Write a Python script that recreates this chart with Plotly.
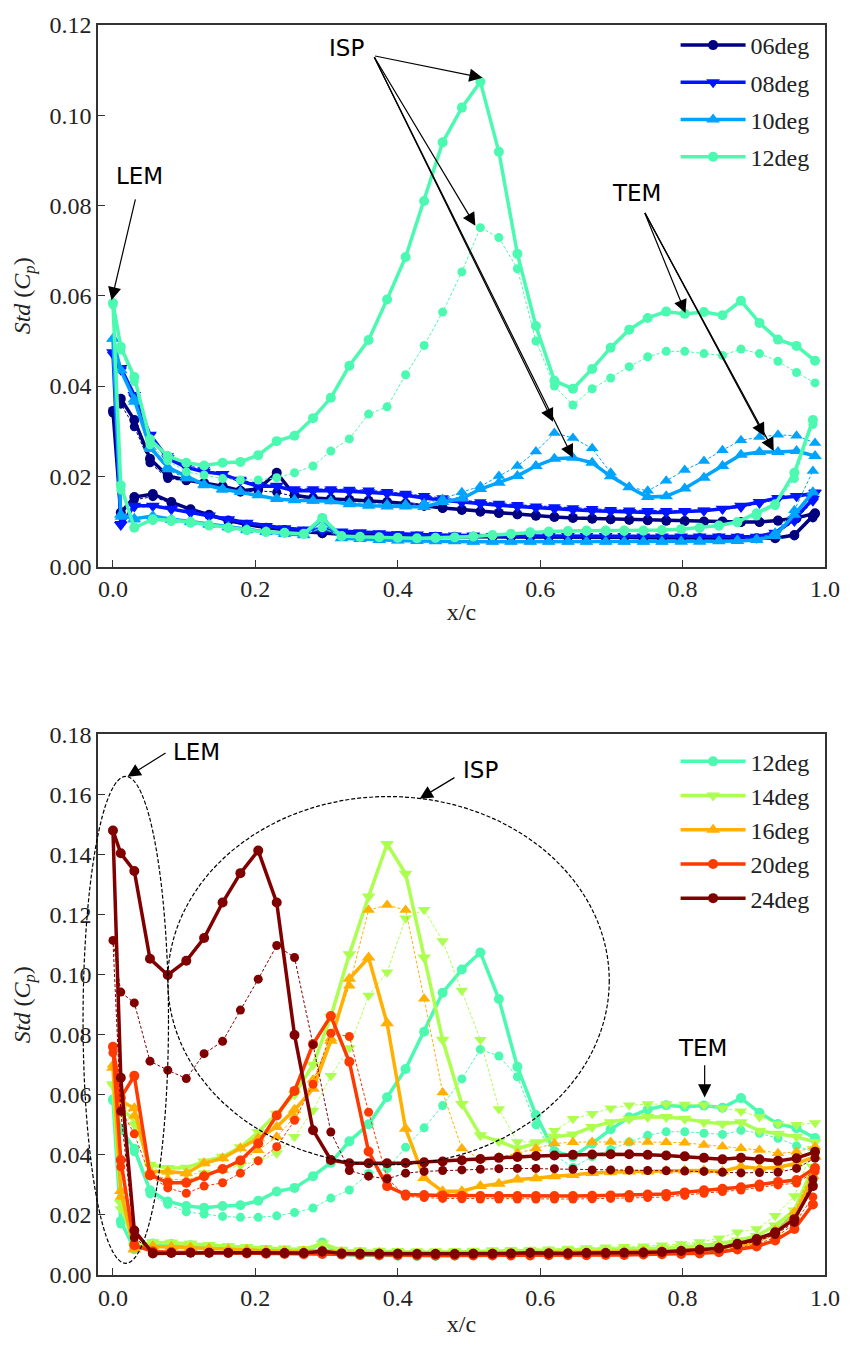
import plotly.graph_objects as go

# ---------------- pressure-tap chordwise positions ----------------
XU = [0.0, 0.011, 0.03, 0.052, 0.077, 0.103, 0.128, 0.154, 0.179, 0.204, 0.230, 0.255, 0.281, 0.306,
      0.332, 0.359, 0.385, 0.411, 0.437, 0.463, 0.490, 0.516, 0.542, 0.568, 0.594, 0.620, 0.646, 0.673,
      0.699, 0.725, 0.751, 0.777, 0.803, 0.830, 0.856, 0.882, 0.908, 0.934, 0.960, 0.986]
XL = [0.0, 0.011, 0.03, 0.056, 0.082, 0.109, 0.135, 0.162, 0.188, 0.215, 0.241, 0.268, 0.294, 0.321,
      0.347, 0.374, 0.400, 0.427, 0.453, 0.480, 0.506, 0.533, 0.559, 0.586, 0.612, 0.639, 0.665, 0.692,
      0.718, 0.745, 0.771, 0.798, 0.824, 0.851, 0.877, 0.904, 0.930, 0.957, 0.983]

# ---------------- 06deg ----------------
A06_SU = [.0345, .0372, .0325, .0239, .0201, .0192, .0185, .0178, .0168, .0172, .0208, .0158, .0152, .0150,
          .0148, .0146, .0143, .0140, .0135, .0130, .0126, .0122, .0119, .0116, .0113, .0110, .0108, .0106,
          .0105, .0104, .0103, .0102, .0101, .0100, .0100, .0099, .0099, .0102, .0108, .0118]
A06_SL = [.0345, .0120, .0154, .0161, .0143, .0127, .0115, .0102, .0093, .0086, .0081, .0077, .0074, .0072,
          .0070, .0069, .0068, .0067, .0066, .0066, .0066, .0066, .0066, .0066, .0066, .0066, .0065, .0065,
          .0065, .0064, .0064, .0063, .0063, .0063, .0063, .0063, .0063, .0070, .0112]
A06_DU = [.0340, .0360, .0310, .0230, .0195, .0190, .0185, .0175, .0165, .0168, .0165, .0155, .0150, .0148,
          .0146, .0144, .0141, .0138, .0134, .0129, .0125, .0121, .0118, .0115, .0112, .0110, .0108, .0106,
          .0104, .0103, .0102, .0101, .0100, .0099, .0099, .0098, .0098, .0101, .0106, .0116]
A06_DL = [.0340, .0115, .0148, .0155, .0140, .0125, .0113, .0100, .0092, .0085, .0080, .0076, .0073, .0071,
          .0069, .0068, .0067, .0066, .0065, .0065, .0065, .0065, .0065, .0065, .0065, .0065, .0064, .0064,
          .0064, .0063, .0063, .0062, .0062, .0062, .0062, .0062, .0063, .0068, .0108]

# ---------------- 08deg ----------------
A08_SU = [.0475, .0440, .0380, .0292, .0240, .0220, .0210, .0205, .0190, .0178, .0178, .0168, .0168, .0168,
          .0167, .0165, .0162, .0158, .0152, .0147, .0142, .0139, .0136, .0133, .0130, .0128, .0126, .0124,
          .0122, .0121, .0120, .0120, .0122, .0124, .0128, .0135, .0143, .0152, .0156, .0163]
A08_SL = [.0475, .0092, .0135, .0135, .0128, .0120, .0113, .0105, .0097, .0090, .0085, .0082, .0080, .0078,
          .0076, .0074, .0072, .0071, .0070, .0069, .0069, .0068, .0068, .0068, .0068, .0068, .0068, .0068,
          .0068, .0067, .0067, .0067, .0067, .0067, .0066, .0066, .0075, .0105, .0150]
A08_DU = [.0470, .0435, .0375, .0290, .0245, .0225, .0215, .0205, .0193, .0182, .0180, .0172, .0172, .0172,
          .0171, .0169, .0166, .0162, .0157, .0152, .0147, .0143, .0140, .0137, .0134, .0132, .0130, .0128,
          .0126, .0125, .0124, .0124, .0124, .0125, .0127, .0131, .0140, .0150, .0157, .0165]
A08_DL = [.0470, .0095, .0132, .0133, .0126, .0118, .0111, .0103, .0096, .0089, .0084, .0081, .0079, .0077,
          .0075, .0073, .0071, .0070, .0069, .0068, .0068, .0067, .0067, .0067, .0067, .0067, .0067, .0067,
          .0067, .0066, .0066, .0066, .0066, .0066, .0065, .0066, .0072, .0100, .0145]

# ---------------- 10deg ----------------
A10_SU = [.0505, .0435, .0370, .0265, .0220, .0200, .0182, .0172, .0166, .0158, .0150, .0147, .0146, .0145,
          .0138, .0135, .0133, .0133, .0132, .0143, .0151, .0172, .0186, .0201, .0223, .0239, .0241, .0230,
          .0200, .0176, .0154, .0156, .0173, .0197, .0223, .0248, .0254, .0254, .0256, .0245]
A10_SL = [.0505, .0115, .0106, .0112, .0105, .0100, .0094, .0088, .0082, .0077, .0073, .0070, .0105, .0063,
          .0061, .0059, .0058, .0057, .0056, .0056, .0055, .0055, .0055, .0055, .0055, .0055, .0055, .0055,
          .0055, .0055, .0055, .0055, .0055, .0056, .0057, .0059, .0068, .0115, .0165]
A10_DU = [.0505, .0435, .0365, .0260, .0215, .0195, .0180, .0170, .0165, .0158, .0152, .0148, .0146, .0145,
          .0142, .0140, .0138, .0138, .0140, .0150, .0165, .0178, .0201, .0223, .0255, .0296, .0285, .0262,
          .0208, .0176, .0168, .0190, .0214, .0234, .0258, .0280, .0287, .0292, .0290, .0274]
A10_DL = [.0500, .0110, .0104, .0110, .0103, .0098, .0092, .0086, .0080, .0076, .0072, .0069, .0086, .0063,
          .0061, .0059, .0058, .0057, .0056, .0056, .0055, .0055, .0055, .0055, .0055, .0055, .0055, .0055,
          .0055, .0055, .0055, .0056, .0056, .0057, .0059, .0062, .0075, .0125, .0212]

# ---------------- 12deg ----------------
A12_SU = [.0584, .0487, .0420, .0282, .0245, .0230, .0224, .0230, .0232, .0247, .0278, .0290, .0329, .0374,
          .0445, .0502, .0592, .0686, .0810, .0940, .1017, .1074, .0919, .0693, .0533, .0412, .0394, .0438,
          .0485, .0525, .0551, .0565, .0560, .0564, .0557, .0589, .0540, .0503, .0489, .0456]
A12_SL = [.0584, .0180, .0086, .0105, .0103, .0099, .0092, .0086, .0081, .0077, .0075, .0073, .0108, .0068,
          .0066, .0065, .0064, .0063, .0064, .0065, .0067, .0070, .0073, .0076, .0078, .0079, .0080, .0080,
          .0080, .0080, .0081, .0083, .0086, .0091, .0099, .0118, .0138, .0208, .0325]
A12_DU = [.0580, .0480, .0410, .0270, .0235, .0210, .0203, .0195, .0192, .0192, .0197, .0208, .0223, .0256,
          .0283, .0338, .0354, .0425, .0490, .0564, .0653, .0751, .0729, .0660, .0500, .0400, .0358, .0394,
          .0418, .0443, .0465, .0477, .0477, .0472, .0468, .0482, .0472, .0455, .0430, .0407]
A12_DL = [.0580, .0170, .0088, .0102, .0100, .0096, .0090, .0085, .0080, .0076, .0074, .0072, .0086, .0068,
          .0066, .0065, .0064, .0063, .0063, .0064, .0066, .0069, .0072, .0074, .0076, .0077, .0078, .0078,
          .0078, .0079, .0080, .0082, .0085, .0090, .0097, .0112, .0135, .0195, .0315]

# ---------------- 14deg ----------------
A14_SU = [.0635, .0550, .0520, .0367, .0356, .0357, .0378, .0394, .0425, .0476, .0537, .0602, .0700, .0860,
          .1068, .1260, .1435, .1336, .1057, .0783, .0569, .0465, .0445, .0421, .0438, .0460, .0468, .0493,
          .0509, .0520, .0526, .0526, .0520, .0509, .0504, .0509, .0480, .0470, .0460, .0443]
A14_SL = [.0635, .0240, .0095, .0108, .0107, .0104, .0100, .0096, .0092, .0089, .0087, .0085, .0105, .0082,
          .0080, .0078, .0077, .0076, .0076, .0077, .0078, .0079, .0080, .0081, .0082, .0083, .0084, .0085,
          .0086, .0087, .0089, .0092, .0097, .0104, .0115, .0130, .0165, .0215, .0360]
A14_DU = [.0630, .0540, .0500, .0360, .0340, .0335, .0340, .0350, .0365, .0380, .0405, .0460, .0548, .0663,
          .0756, .0931, .1008, .1188, .1216, .1112, .0947, .0783, .0553, .0443, .0443, .0480, .0520, .0537,
          .0555, .0565, .0569, .0569, .0568, .0566, .0555, .0545, .0526, .0504, .0500, .0506]
A14_DL = [.0630, .0220, .0098, .0110, .0108, .0105, .0101, .0097, .0094, .0091, .0089, .0087, .0092, .0085,
          .0083, .0082, .0081, .0080, .0080, .0081, .0082, .0083, .0084, .0085, .0086, .0088, .0090, .0092,
          .0094, .0096, .0099, .0103, .0110, .0122, .0142, .0153, .0197, .0263, .0420]

# ---------------- 16deg ----------------
A16_SU = [.0690, .0580, .0555, .0345, .0345, .0339, .0372, .0389, .0422, .0455, .0493, .0550, .0620, .0780,
          .0986, .1057, .0838, .0487, .0323, .0279, .0279, .0296, .0304, .0318, .0322, .0329, .0333, .0340,
          .0342, .0345, .0345, .0347, .0348, .0348, .0345, .0361, .0355, .0358, .0372, .0394]
A16_SL = [.0690, .0280, .0085, .0095, .0093, .0090, .0087, .0085, .0083, .0081, .0079, .0078, .0082, .0076,
          .0074, .0073, .0072, .0071, .0071, .0071, .0071, .0072, .0072, .0073, .0073, .0074, .0075, .0076,
          .0077, .0078, .0080, .0082, .0085, .0090, .0097, .0110, .0140, .0195, .0330]
A16_DU = [.0700, .0570, .0530, .0335, .0320, .0315, .0335, .0350, .0380, .0415, .0460, .0526, .0650, .0788,
          .0963, .1215, .1232, .1215, .0920, .0608, .0421, .0386, .0392, .0405, .0421, .0438, .0442, .0443,
          .0443, .0443, .0443, .0442, .0440, .0433, .0428, .0422, .0416, .0405, .0410, .0427]
A16_DL = [.0700, .0260, .0088, .0097, .0095, .0092, .0089, .0086, .0084, .0082, .0080, .0079, .0081, .0077,
          .0075, .0074, .0073, .0072, .0072, .0072, .0072, .0073, .0073, .0074, .0074, .0075, .0076, .0077,
          .0078, .0080, .0082, .0084, .0088, .0093, .0100, .0115, .0150, .0210, .0350]

# ---------------- 20deg ----------------
A20_SU = [.0760, .0590, .0663, .0334, .0307, .0307, .0329, .0353, .0381, .0438, .0531, .0613, .0769, .0862,
          .0710, .0411, .0296, .0268, .0266, .0265, .0264, .0263, .0263, .0263, .0263, .0263, .0263, .0264,
          .0265, .0266, .0268, .0270, .0275, .0282, .0287, .0292, .0301, .0310, .0316, .0356]
A20_SL = [.0760, .0383, .0099, .0078, .0076, .0075, .0074, .0073, .0072, .0071, .0070, .0069, .0070, .0068,
          .0067, .0066, .0066, .0065, .0065, .0065, .0065, .0065, .0065, .0065, .0066, .0066, .0066, .0067,
          .0067, .0068, .0069, .0070, .0072, .0076, .0085, .0095, .0115, .0153, .0235]
A20_DU = [.0740, .0550, .0470, .0330, .0290, .0272, .0296, .0307, .0339, .0380, .0427, .0515, .0635, .0805,
          .0794, .0542, .0323, .0262, .0258, .0255, .0254, .0253, .0253, .0253, .0253, .0253, .0253, .0254,
          .0255, .0256, .0258, .0260, .0265, .0272, .0278, .0283, .0292, .0300, .0306, .0345]
A20_DL = [.0740, .0360, .0105, .0080, .0078, .0077, .0076, .0075, .0074, .0073, .0072, .0071, .0071, .0070,
          .0069, .0068, .0068, .0067, .0067, .0067, .0067, .0067, .0067, .0067, .0068, .0068, .0068, .0069,
          .0069, .0070, .0071, .0072, .0075, .0080, .0090, .0102, .0125, .0170, .0260]

# ---------------- 24deg ----------------
A24_SU = [.1480, .1404, .1345, .1053, .0999, .1046, .1122, .1240, .1338, .1413, .1240, .0799, .0482, .0383,
          .0372, .0372, .0372, .0373, .0375, .0378, .0382, .0386, .0390, .0393, .0396, .0398, .0400, .0401,
          .0402, .0402, .0400, .0398, .0395, .0390, .0385, .0390, .0385, .0380, .0389, .0410]
A24_SL = [.1480, .0657, .0148, .0072, .0073, .0074, .0074, .0074, .0074, .0073, .0073, .0073, .0079, .0072,
          .0071, .0071, .0071, .0070, .0070, .0070, .0071, .0071, .0072, .0074, .0072, .0072, .0073, .0073,
          .0074, .0075, .0077, .0080, .0084, .0088, .0104, .0120, .0142, .0186, .0296]
A24_DU = [.1114, .0942, .0906, .0712, .0682, .0654, .0737, .0778, .0882, .0985, .1097, .1057, .0767, .0476,
          .0348, .0329, .0320, .0339, .0345, .0348, .0350, .0352, .0354, .0355, .0355, .0354, .0352, .0350,
          .0350, .0349, .0348, .0347, .0346, .0345, .0342, .0340, .0341, .0342, .0355, .0389]
A24_DL = [.1114, .0545, .0125, .0074, .0074, .0075, .0075, .0075, .0074, .0074, .0074, .0073, .0076, .0072,
          .0072, .0071, .0071, .0071, .0071, .0071, .0071, .0072, .0072, .0073, .0073, .0073, .0074, .0074,
          .0075, .0076, .0078, .0081, .0085, .0092, .0100, .0112, .0135, .0175, .0318]

TOP_NAMES = ["06deg", "08deg", "10deg", "12deg"]
BOT_NAMES = ["12deg", "14deg", "16deg", "20deg", "24deg"]

# ---------------- styles ----------------
COLORS = {"06deg": "#000080", "08deg": "#0014FF", "10deg": "#00A4FF", "12deg": "#4BFAB0",
          "14deg": "#ADFF4F", "16deg": "#FFB000", "20deg": "#FF3A00", "24deg": "#800000"}
SYMBOLS = {"06deg": "circle", "08deg": "triangle-down", "10deg": "triangle-up", "12deg": "circle",
           "14deg": "triangle-down", "16deg": "triangle-up", "20deg": "circle", "24deg": "circle"}
DATA = {"06deg": (A06_SU, A06_SL, A06_DU, A06_DL), "08deg": (A08_SU, A08_SL, A08_DU, A08_DL),
        "10deg": (A10_SU, A10_SL, A10_DU, A10_DL), "12deg": (A12_SU, A12_SL, A12_DU, A12_DL),
        "14deg": (A14_SU, A14_SL, A14_DU, A14_DL), "16deg": (A16_SU, A16_SL, A16_DU, A16_DL),
        "20deg": (A20_SU, A20_SL, A20_DU, A20_DL), "24deg": (A24_SU, A24_SL, A24_DU, A24_DL)}

XR = [-0.021, 1.0]
YR_TOP = [0.0, 0.12]
YR_BOT = [0.0, 0.18]

SERIF = "Liberation Serif"
SANS = "DejaVu Sans"
TXT = "#222222"


def loop(up, lo):
    xs = XU[::-1] + XL[1:]
    ys = up[::-1] + lo[1:]
    return xs, ys


fig = go.Figure()


def add_angle(name, xa, ya, legend, group):
    su, sl, du, dl = DATA[name]
    col = COLORS[name]
    sym = SYMBOLS[name]
    big = 2 if sym.startswith("triangle") else 0
    xs, ys = loop(du, dl)
    fig.add_trace(go.Scatter(x=xs, y=ys, mode="lines+markers", xaxis=xa, yaxis=ya,
                             line=dict(color=col, width=1, dash="3px,2px"),
                             marker=dict(symbol=sym, size=9 + big, color=col, line=dict(width=0)),
                             showlegend=False, legendgroup=group, hoverinfo="skip"))
    xs, ys = loop(su, sl)
    fig.add_trace(go.Scatter(x=xs, y=ys, mode="lines+markers", xaxis=xa, yaxis=ya, name=name,
                             line=dict(color=col, width=3.5),
                             marker=dict(symbol=sym, size=10 + big, color=col, line=dict(width=0)),
                             legend=legend, legendgroup=group))


for n in TOP_NAMES:
    add_angle(n, "x", "y", "legend", "t" + n)
for n in BOT_NAMES:
    add_angle(n, "x2", "y2", "legend2", "b" + n)

axis_common = dict(showline=True, linecolor="#333333", linewidth=1.5, mirror=True,
                   ticks="inside", ticklen=7, tickwidth=1.2, tickcolor="#333333",
                   showgrid=False, zeroline=False,
                   tickfont=dict(family=SERIF, size=24, color=TXT))

ytitle = "<i>Std</i> (<i>C<sub>p</sub></i>)"

fig.update_layout(
    width=852, height=1345,
    margin=dict(l=98, r=19, t=13, b=65),
    paper_bgcolor="white", plot_bgcolor="white",
    xaxis=dict(domain=[0, 1], range=XR, anchor="y", tickvals=[0, 0.2, 0.4, 0.6, 0.8, 1.0],
               tickformat=".1f", title=dict(text="x/c", font=dict(family=SERIF, size=24, color=TXT), standoff=2),
               **axis_common),
    yaxis=dict(domain=[0.5667, 1], range=YR_TOP, anchor="x", dtick=0.02, tickformat=".2f",
               title=dict(text=ytitle, font=dict(family=SERIF, size=24, color=TXT), standoff=12),
               **axis_common),
    xaxis2=dict(domain=[0, 1], range=XR, anchor="y2", tickvals=[0, 0.2, 0.4, 0.6, 0.8, 1.0],
                tickformat=".1f", title=dict(text="x/c", font=dict(family=SERIF, size=24, color=TXT), standoff=6),
                **axis_common),
    yaxis2=dict(domain=[0, 0.4325], range=YR_BOT, anchor="x2", dtick=0.02, tickformat=".2f",
                title=dict(text=ytitle, font=dict(family=SERIF, size=24, color=TXT), standoff=12),
                **axis_common),
    legend=dict(x=0.7945, y=1.0016, xanchor="left", yanchor="top", bgcolor="rgba(0,0,0,0)",
                font=dict(family=SERIF, size=24, color=TXT), itemwidth=65, tracegroupgap=3),
    legend2=dict(x=0.7945, y=0.4286, xanchor="left", yanchor="top", bgcolor="rgba(0,0,0,0)",
                 font=dict(family=SERIF, size=24, color=TXT), itemwidth=65, tracegroupgap=0),
    showlegend=True,
)

# ---------------- annotations ----------------
ann_font = dict(family=SANS, size=23, color="black")
LABELS = [  # text, x, y, axis suffix
    ("LEM", 0.0376, 0.0866, ""), ("ISP", 0.3285, 0.1148, ""), ("TEM", 0.735, 0.0828, ""),
    ("LEM", 0.118, 0.1741, "2"), ("ISP", 0.516, 0.1682, "2"), ("TEM", 0.8275, 0.0756, "2"),
]
for t, x, y, s in LABELS:
    fig.add_annotation(text=t, x=x, y=y, xref="x" + s, yref="y" + s, showarrow=False,
                       font=ann_font, xanchor="center", yanchor="middle")

ARROWS = [  # tail x, tail y, tip x, tip y, axis suffix
    (0.032, 0.0817, -0.002, 0.0590, ""),
    (0.366, 0.1132, 0.519, 0.1083, ""),
    (0.366, 0.1132, 0.509, 0.0755, ""),
    (0.366, 0.1132, 0.618, 0.0321, ""),
    (0.366, 0.1132, 0.646, 0.0241, ""),
    (0.746, 0.0787, 0.804, 0.0562, ""),
    (0.746, 0.0787, 0.915, 0.0289, ""),
    (0.746, 0.0787, 0.928, 0.0256, ""),
    (0.076, 0.1741, 0.0204, 0.1659, "2"),
    (0.4817, 0.1659, 0.4307, 0.1586, "2"),
    (0.831, 0.0703, 0.831, 0.0591, "2"),
]
for ax_, ay_, x, y, s in ARROWS:
    fig.add_annotation(text="", x=x, y=y, ax=ax_, ay=ay_, xref="x" + s, yref="y" + s,
                       axref="x" + s, ayref="y" + s, showarrow=True, arrowhead=2, arrowsize=2.2,
                       arrowwidth=1.2, arrowcolor="black", standoff=0, startstandoff=0)

# ---------------- dashed ellipses (bottom panel) ----------------
ELLIPSES = [(-0.042, 0.078, 0.0039, 0.166), (0.077, 0.697, 0.0367, 0.1593)]


def dom(v, r):
    return (v - r[0]) / (r[1] - r[0])


for x0, x1, y0, y1 in ELLIPSES:
    fig.add_shape(type="circle", xref="x2 domain", yref="y2 domain",
                  x0=dom(x0, XR), x1=dom(x1, XR), y0=dom(y0, YR_BOT), y1=dom(y1, YR_BOT),
                  line=dict(color="black", width=1.2, dash="4px,2px"), layer="above")

fig.write_html("out.html")
